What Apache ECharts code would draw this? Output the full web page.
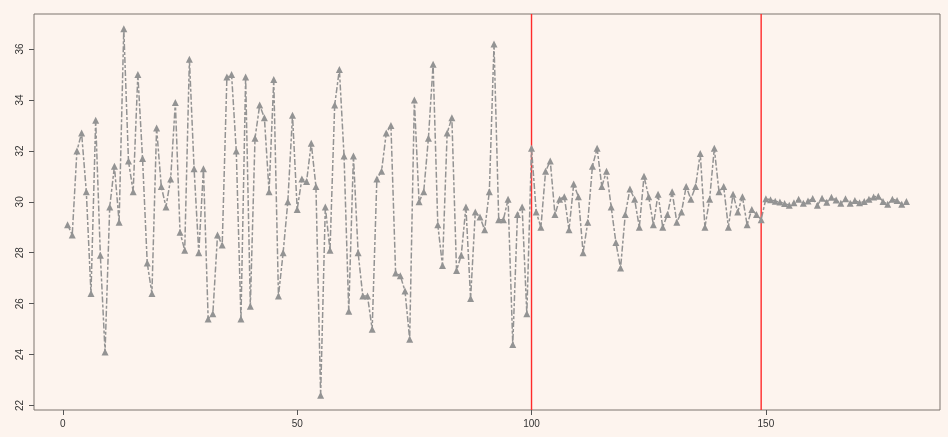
<!DOCTYPE html>
<html>
<head>
<meta charset="utf-8">
<script src="https://cdn.jsdelivr.net/npm/echarts@6/dist/echarts.min.js"></script>
<style>
html,body{margin:0;padding:0;background:#fdf4ee;}
#c{width:948px;height:437px;}
</style>
</head>
<body>
<div id="c"></div>
<script>
const values = [29.1,28.7,32.0,32.7,30.4,26.4,33.2,27.9,24.1,29.8,
31.4,29.2,36.8,31.6,30.4,35.0,31.7,27.6,26.4,32.9,
30.6,29.8,30.9,33.9,28.8,28.1,35.6,31.3,28.0,31.3,
25.4,25.6,28.7,28.3,34.9,35.0,32.0,25.4,34.9,25.9,
32.5,33.8,33.3,30.4,34.8,26.3,28.0,30.0,33.4,29.7,
30.9,30.8,32.3,30.6,22.4,29.8,28.1,33.8,35.2,31.8,
25.7,31.8,28.0,26.3,26.3,25.0,30.9,31.2,32.7,33.0,
27.2,27.1,26.5,24.6,34.0,30.0,30.4,32.5,35.4,29.1,
27.5,32.7,33.3,27.3,27.9,29.8,26.2,29.6,29.4,28.9,
30.4,36.2,29.3,29.3,30.1,24.4,29.5,29.8,25.6,32.1,
29.6,29.0,31.2,31.6,29.5,30.1,30.2,28.9,30.7,30.2,
28.0,29.2,31.4,32.1,30.6,31.2,29.8,28.4,27.4,29.5,
30.5,30.1,29.0,31.0,30.2,29.1,30.3,29.0,29.5,30.4,
29.2,29.6,30.6,30.1,30.6,31.9,29.0,30.1,32.1,30.4,
30.6,29.0,30.3,29.6,30.2,29.1,29.7,29.5,29.3,30.12,
30.08,30.02,29.99,29.93,29.87,29.96,30.1,29.94,30.03,30.13,
29.87,30.14,29.98,30.18,30.07,29.94,30.12,29.94,30.05,29.96,
30.01,30.10,30.19,30.22,30.01,29.90,30.10,30.05,29.90,30.01];
const xTicks = [0, 50, 100, 150];
const yTicks = [22, 24, 26, 28, 30, 32, 34, 36];
const changePoints = [100, 149];

const n = values.length;
const xMin = 1 - 0.04 * (n - 1), xMax = n + 0.04 * (n - 1);
const vMin = Math.min(...values), vMax = Math.max(...values);
const yMin = vMin - 0.04 * (vMax - vMin), yMax = vMax + 0.04 * (vMax - vMin);

const chart = echarts.init(document.getElementById('c'), null, {renderer: 'canvas'});
const txt = {color: '#333', fontFamily: 'Liberation Sans, Arial, sans-serif', fontSize: 10};
const vlines = changePoints.map(x => ({
  type: 'line',
  data: [[x, yMin], [x, yMax]],
  symbol: 'none',
  silent: true,
  z: 1,
  lineStyle: {color: '#ff2a2a', width: 1.4, type: 'solid'}
}));
chart.setOption({
  backgroundColor: '#fdf4ee',
  animation: false,
  grid: {left: 34, right: 8, top: 14, bottom: 27, show: true, borderColor: '#7d756f', borderWidth: 1, backgroundColor: 'transparent'},
  xAxis: {
    type: 'value', min: xMin, max: xMax,
    axisLine: {show: false, onZero: false},
    splitLine: {show: false},
    axisTick: {show: true, length: 5, lineStyle: {color: '#555'}, customValues: xTicks},
    axisLabel: Object.assign({customValues: xTicks, margin: 9}, txt)
  },
  yAxis: {
    type: 'value', min: yMin, max: yMax,
    axisLine: {show: false, onZero: false},
    splitLine: {show: false},
    axisTick: {show: true, length: 5, lineStyle: {color: '#555'}, customValues: yTicks},
    axisLabel: Object.assign({customValues: yTicks, rotate: 90, margin: 9}, txt)
  },
  series: [{
    type: 'line',
    data: values.map((v, i) => [i + 1, v]),
    symbol: 'triangle',
    symbolSize: 7,
    showAllSymbol: true,
    z: 3,
    lineStyle: {color: '#939393', width: 1.5, type: [6, 2, 3, 2]},
    itemStyle: {color: '#939393', borderWidth: 0}
  }].concat(vlines)
});
</script>
</body>
</html>
